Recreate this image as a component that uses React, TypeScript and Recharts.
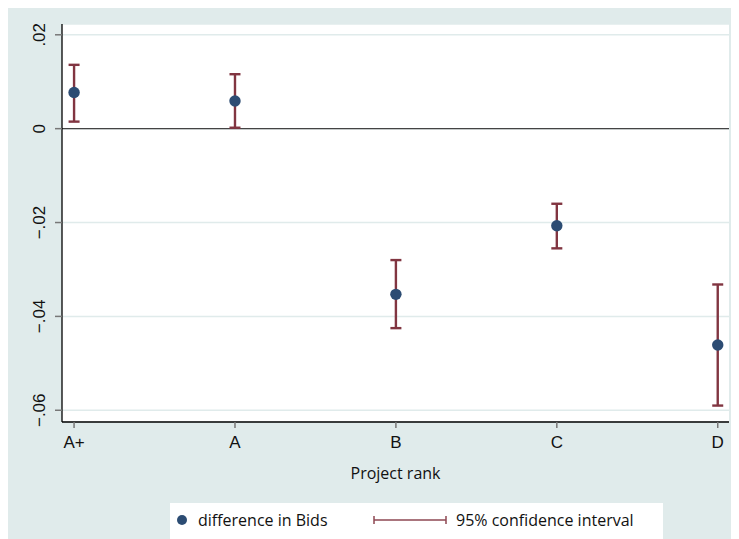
import { ComposedChart, Scatter, ErrorBar, XAxis, YAxis, CartesianGrid, ReferenceLine } from "recharts";

const ranks = ["A+", "A", "B", "C", "D"];
const diffBids = [0.0077, 0.0059, -0.0353, -0.0207, -0.0461];
const ciLow = [0.0015, 0.0002, -0.0425, -0.0255, -0.059];
const ciHigh = [0.0136, 0.0116, -0.028, -0.016, -0.0332];
const yTicks = [0.02, 0, -0.02, -0.04, -0.06];

const data = ranks.map((r, i) => ({
  pos: i,
  rank: r,
  diff: diffBids[i],
  err: [diffBids[i] - ciLow[i], ciHigh[i] - diffBids[i]],
}));

const BG = "#E0EBEB";
const DOT = "#2C4C73";
const CI = "#813541";
const tickFont = "'Liberation Sans', Arial, sans-serif";
const textFont = "'Open Sans', 'Noto Sans', sans-serif";

const fmtY = (v: number) => {
  if (v === 0) return "0";
  const s = Math.abs(v).toFixed(2).replace(/^0/, "");
  return (v < 0 ? "\u2212" : "") + s;
};

const YTick = ({ x, y, payload }: any) => (
  <text
    x={x}
    y={y}
    transform={`rotate(-90 ${x} ${y})`}
    textAnchor="middle"
    dominantBaseline="central"
    fontSize={17}
    fontFamily={tickFont}
    fill="#111"
  >
    {fmtY(payload.value)}
  </text>
);

export default function App() {
  return (
    <div style={{ marginTop: -3, width: 731, height: 534, background: BG, position: "relative" }}>
      <ComposedChart width={731} height={534} data={data} margin={{ top: 19, right: 10, left: 0, bottom: 57 }}>
        <CartesianGrid vertical={false} stroke={BG} strokeWidth={1.5} fill="#fff" />
        <XAxis
          dataKey="pos"
          type="number"
          domain={[-0.075, 4.07]}
          ticks={[0, 1, 2, 3, 4]}
          tickFormatter={(v: number) => ranks[v]}
          height={60}
          tickSize={6}
          tickMargin={8}
          axisLine={{ stroke: "#000", strokeWidth: 1.3 }}
          tickLine={{ stroke: "#777", strokeWidth: 1.5 }}
          tick={{ fontSize: 17, fontFamily: tickFont, fill: "#111" }}
          label={{ value: "Project rank", position: "insideBottom", offset: 3, fontSize: 16, fontFamily: textFont, fill: "#111" }}
        />
        <YAxis
          type="number"
          domain={[-0.0625, 0.0223]}
          ticks={yTicks}
          width={54}
          tickSize={7}
          tickMargin={15}
          axisLine={{ stroke: "#000", strokeWidth: 1.3 }}
          tickLine={{ stroke: "#777", strokeWidth: 1.5 }}
          tick={<YTick />}
          allowDataOverflow
        />
        <ReferenceLine y={0} stroke="#444" strokeWidth={1.3} />
        <Scatter
          dataKey="diff"
          isAnimationActive={false}
          shape={(p: any) => <circle cx={p.cx} cy={p.cy} r={5.7} fill={DOT} />}
        />
        <Scatter dataKey="diff" isAnimationActive={false} shape={() => <g />}>
          <ErrorBar dataKey="err" direction="y" width={5.5} stroke={CI} strokeWidth={2.4} isAnimationActive={false} />
        </Scatter>
      </ComposedChart>
      <div
        style={{
          position: "absolute",
          left: 162,
          top: 498,
          width: 493,
          height: 36,
          background: "#fff",
          fontFamily: textFont,
          fontSize: 16,
          color: "#111",
        }}
      >
        <svg width={493} height={36} style={{ position: "absolute", left: 0, top: 0 }}>
          <circle cx={12} cy={17} r={5} fill={DOT} />
          <line x1={204} y1={17} x2={276} y2={17} stroke="#8E4752" strokeWidth={1.5} />
          <line x1={204} y1={13} x2={204} y2={21} stroke="#8E4752" strokeWidth={1.5} />
          <line x1={276} y1={13} x2={276} y2={21} stroke="#8E4752" strokeWidth={1.5} />
          <text x={28} y={17} dominantBaseline="central" fontSize={16} fontFamily={textFont} fill="#111">
            difference in Bids
          </text>
          <text x={286} y={17} dominantBaseline="central" fontSize={16} fontFamily={textFont} fill="#111">
            95% confidence interval
          </text>
        </svg>
      </div>
    </div>
  );
}
